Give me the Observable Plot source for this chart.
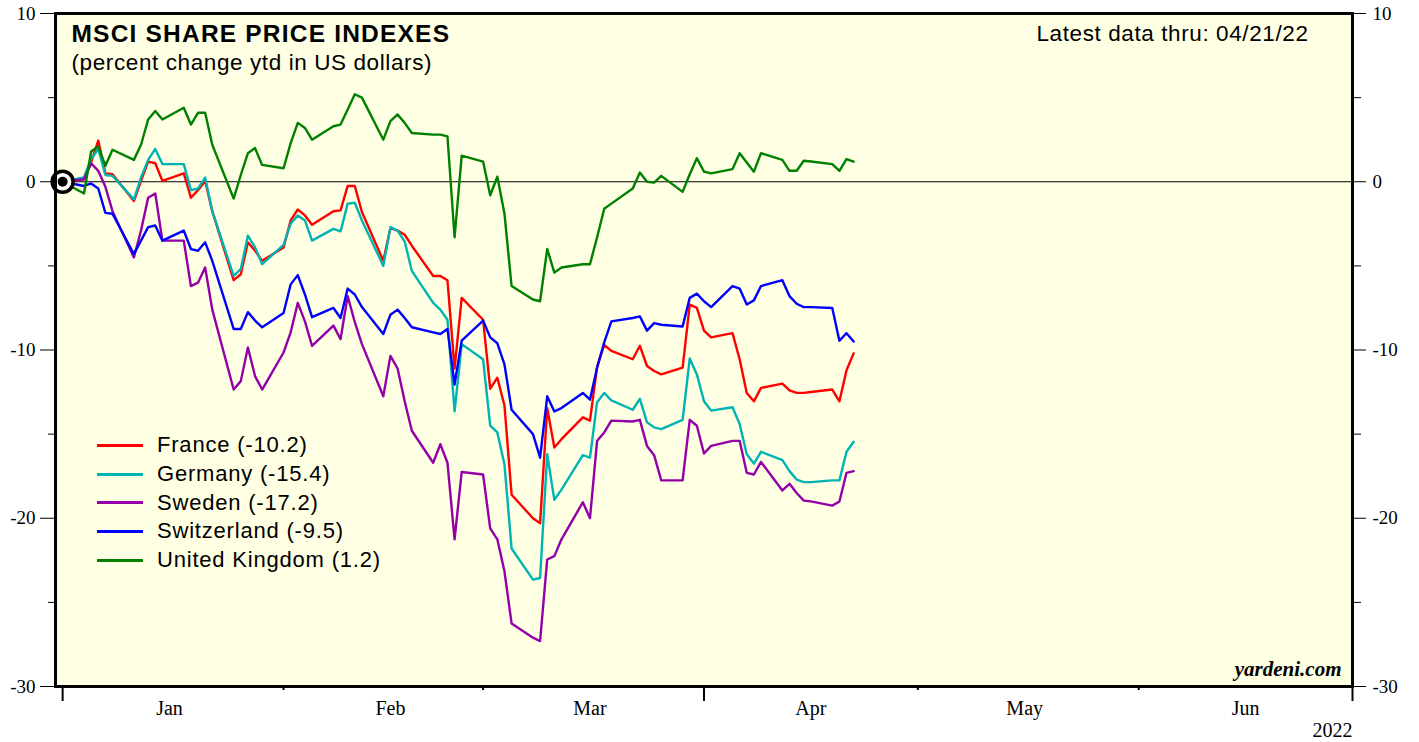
<!DOCTYPE html>
<html><head><meta charset="utf-8">
<script src="https://cdn.jsdelivr.net/npm/d3@7"></script>
<script src="https://cdn.jsdelivr.net/npm/@observablehq/plot@0.6"></script>
<style>
body{margin:0;background:#fff;}
#wrap{position:relative;width:1419px;height:742px;overflow:hidden;}
.legend{position:absolute;left:97px;top:431px;font-family:"Liberation Sans",Arial,sans-serif;font-size:22px;letter-spacing:0.8px;color:#000}
.legend .row{display:flex;align-items:center;height:28.7px;white-space:nowrap}
.legend .sw{width:46px;height:3px;margin-right:14px}
</style></head>
<body><div id="wrap"></div>
<script>
const dates = ["2021-12-31",
"2022-01-03","2022-01-04","2022-01-05","2022-01-06","2022-01-07",
"2022-01-10","2022-01-11","2022-01-12","2022-01-13","2022-01-14",
"2022-01-17","2022-01-18","2022-01-19","2022-01-20","2022-01-21",
"2022-01-24","2022-01-25","2022-01-26","2022-01-27","2022-01-28",
"2022-01-31",
"2022-02-01","2022-02-02","2022-02-03","2022-02-04",
"2022-02-07","2022-02-08","2022-02-09","2022-02-10","2022-02-11",
"2022-02-14","2022-02-15","2022-02-16","2022-02-17","2022-02-18",
"2022-02-21","2022-02-22","2022-02-23","2022-02-24","2022-02-25",
"2022-02-28",
"2022-03-01","2022-03-02","2022-03-03","2022-03-04",
"2022-03-07","2022-03-08","2022-03-09","2022-03-10","2022-03-11",
"2022-03-14","2022-03-15","2022-03-16","2022-03-17","2022-03-18",
"2022-03-21","2022-03-22","2022-03-23","2022-03-24","2022-03-25",
"2022-03-28","2022-03-29","2022-03-30","2022-03-31",
"2022-04-01",
"2022-04-04","2022-04-05","2022-04-06","2022-04-07","2022-04-08",
"2022-04-11","2022-04-12","2022-04-13","2022-04-14","2022-04-15",
"2022-04-18","2022-04-19","2022-04-20","2022-04-21"];

const france = [0,
0.15,1.15,2.45,0.5,0.45,
-1.15,0.05,1.2,1.1,0.05,
0.5,-0.95,-0.5,0.05,-1.75,
-5.85,-5.5,-3.6,-4.1,-4.7,
-3.9,
-2.3,-1.65,-2.0,-2.55,
-1.75,-1.7,-0.25,-0.25,-1.8,
-4.7,-2.75,-2.9,-3.15,-3.8,
-5.6,-5.6,-5.85,-11.1,-6.9,
-8.2,
-12.3,-11.65,-13.3,-18.6,
-20.0,-20.3,-13.45,-15.8,-15.3,
-14.0,-14.2,-11.0,-9.7,-10.05,
-10.55,-9.75,-10.95,-11.25,-11.45,
-11.05,-7.3,-7.5,-8.85,
-9.25,
-9.0,-10.55,-12.55,-13.05,-12.25,
-12.0,-12.4,-12.55,-12.55,-12.5,
-12.35,-13.05,-11.2,-10.2];

const germany = [0,
0.25,1.35,1.95,0.4,0.35,
-1.05,0.25,1.3,1.95,1.05,
1.05,-0.5,-0.4,0.25,-1.75,
-5.6,-5.2,-3.2,-3.9,-4.9,
-3.75,
-2.5,-2.0,-2.3,-3.5,
-2.8,-2.95,-1.3,-1.25,-2.3,
-5.0,-2.7,-2.9,-3.55,-5.3,
-7.2,-7.6,-8.2,-13.65,-9.65,
-10.55,
-14.5,-14.9,-16.8,-21.8,
-23.65,-23.55,-16.2,-18.9,-18.3,
-16.25,-16.4,-13.1,-12.55,-13.0,
-13.55,-12.9,-14.3,-14.6,-14.7,
-14.15,-10.5,-11.45,-13.05,
-13.6,
-13.4,-14.4,-16.2,-16.75,-16.05,
-16.55,-17.2,-17.7,-17.85,-17.85,
-17.75,-17.75,-16.05,-15.45];

const sweden = [0,
0.15,1.1,0.65,-0.3,-1.75,
-4.5,-2.9,-0.95,-0.7,-3.5,
-3.5,-6.2,-6.0,-5.1,-7.6,
-12.35,-11.85,-9.85,-11.55,-12.35,
-10.15,
-8.95,-7.2,-8.3,-9.75,
-8.55,-9.35,-6.8,-8.35,-9.65,
-12.75,-10.35,-11.1,-13.05,-14.8,
-16.7,-15.6,-16.7,-21.25,-17.25,
-17.4,
-20.6,-21.25,-23.15,-26.25,
-27.1,-27.3,-22.45,-22.25,-21.25,
-19.05,-20.0,-15.4,-14.9,-14.2,
-14.25,-14.15,-15.7,-16.25,-17.75,
-17.75,-14.15,-14.5,-16.15,
-15.7,
-15.4,-15.4,-17.3,-17.4,-16.65,
-18.35,-17.95,-18.5,-18.95,-19.0,
-19.25,-19.0,-17.3,-17.2];

const switzerland = [0,
-0.25,-0.1,-0.4,-1.85,-1.9,
-4.3,-3.5,-2.7,-2.6,-3.5,
-2.9,-4.0,-4.1,-3.6,-4.7,
-8.75,-8.75,-7.75,-8.25,-8.65,
-7.8,
-6.1,-5.55,-6.7,-8.05,
-7.5,-8.1,-6.35,-6.7,-7.45,
-9.05,-7.9,-7.6,-8.1,-8.65,
-8.95,-9.05,-8.75,-12.05,-9.45,
-8.25,
-9.25,-9.6,-10.85,-13.55,
-15.0,-16.4,-12.75,-13.65,-13.45,
-12.55,-12.95,-11.05,-9.55,-8.3,
-8.1,-8.0,-8.85,-8.4,-8.5,
-8.6,-6.9,-6.65,-7.1,
-7.45,
-6.2,-6.35,-7.3,-7.05,-6.2,
-5.85,-6.8,-7.25,-7.45,-7.45,
-7.5,-9.45,-9.0,-9.5];

const unitedKingdom = [0,
-0.7,1.8,2.1,0.95,1.9,
1.3,2.2,3.7,4.2,3.7,
4.4,3.4,4.1,4.1,2.2,
-1.0,0.4,1.7,2.0,1.0,
0.8,
2.3,3.5,3.2,2.5,
3.3,3.4,4.3,5.2,5.0,
2.5,3.6,4.0,3.5,2.9,
2.8,2.8,2.7,-3.3,1.55,
1.2,
-0.8,0.3,-1.9,-6.2,
-7.0,-7.1,-4.0,-5.4,-5.1,
-4.9,-4.9,-3.3,-1.6,-1.3,
-0.4,0.55,0.0,-0.05,0.35,
-0.6,0.45,1.4,0.6,
0.5,
0.75,1.7,1.15,0.6,1.7,
1.3,0.65,0.65,1.25,1.2,
1.05,0.65,1.35,1.2];

const countries = ["France","Germany","Sweden","Switzerland","United Kingdom"];
const latestValues = ["-10.2","-15.4","-17.2","-9.5","1.2"];
const colors = ["#ff0000","#00b4b4","#9400a8","#0000ff","#008000"];
const yMajorTicks = [-30,-20,-10,0,10];
const yMinorTicks = [-25,-15,-5,5];
const xMajorTicks = ["2021-12-31","2022-03-31","2022-06-30"];
const xMinorTicks = ["2022-01-31","2022-02-28","2022-04-30","2022-05-31"];
const monthLabelDates = ["2022-01-15","2022-02-15","2022-03-15","2022-04-15","2022-05-15","2022-06-15"];
const xDomain = ["2021-12-30","2022-06-30"];

const title = "MSCI SHARE PRICE INDEXES";
const subtitle = "(percent change ytd in US dollars)";
const latestNote = "Latest data thru: 04/21/22";
const source = "yardeni.com";
const yearLabel = "2022";

const parse = d3.utcParse("%Y-%m-%d");
const seriesValues = [france, germany, sweden, switzerland, unitedKingdom];
const rows = [];
seriesValues.forEach((vals, i) => vals.forEach((v, j) => rows.push({date: parse(dates[j]), value: v, country: countries[i]})));
const origin = [{date: parse(dates[0]), value: 0}];

const sans = "Liberation Sans, Arial, sans-serif";
const serif = "Liberation Serif, Times New Roman, serif";

const plot = Plot.plot({
  width: 1419, height: 742,
  marginLeft: 55, marginRight: 67, marginTop: 13, marginBottom: 56,
  style: {fontFamily: serif, background: "transparent", color: "black"},
  x: {type: "utc", domain: xDomain.map(parse), label: null},
  y: {domain: [-30, 10], label: null},
  color: {domain: countries, range: colors},
  marks: [
    Plot.frame({fill: "#ffffe3"}),
    Plot.ruleY([0], {stroke: "black", strokeWidth: 1.2}),
    Plot.line(rows, {x: "date", y: "value", z: "country", stroke: "country", strokeWidth: 2.4}),
    Plot.dot(origin, {x: "date", y: "value", r: 10.5, fill: "white", stroke: "black", strokeWidth: 3.5}),
    Plot.dot(origin, {x: "date", y: "value", r: 5, fill: "black"}),
    Plot.frame({stroke: "black", strokeWidth: 3}),
    Plot.axisY(yMajorTicks, {anchor: "left", tickSize: 15, tickPadding: 5, fontSize: 19, fontFamily: serif, tickFormat: d => String(d), label: null}),
    Plot.axisY(yMinorTicks, {anchor: "left", tickSize: 7, tickFormat: () => "", label: null}),
    Plot.axisY(yMajorTicks, {anchor: "right", tickSize: 13, tickPadding: 7, fontSize: 19, fontFamily: serif, tickFormat: d => String(d), label: null}),
    Plot.axisY(yMinorTicks, {anchor: "right", tickSize: 8, tickFormat: () => "", label: null}),
    Plot.axisX(xMajorTicks.map(parse), {anchor: "bottom", tickSize: 15, strokeWidth: 2, tickFormat: () => "", label: null}),
    Plot.axisX(xMinorTicks.map(parse), {anchor: "bottom", tickSize: 4, strokeWidth: 2, tickFormat: () => "", label: null}),
    Plot.axisX(monthLabelDates.map(parse), {anchor: "bottom", tickSize: 0, tickPadding: 14, fontSize: 20, fontFamily: serif, tickFormat: d3.utcFormat("%b"), label: null}),
    Plot.text([title], {frameAnchor: "top-left", dx: 16, dy: 20.5, textAnchor: "start", lineAnchor: "middle", fontFamily: sans, fontWeight: "bold", fontSize: 24.5, fill: "black"}),
    Plot.text([subtitle], {frameAnchor: "top-left", dx: 16, dy: 49.5, textAnchor: "start", lineAnchor: "middle", fontFamily: sans, fontSize: 22.5, fill: "black"}),
    Plot.text([latestNote], {frameAnchor: "top-right", dx: -44, dy: 20, textAnchor: "end", lineAnchor: "middle", fontFamily: sans, fontSize: 22.5, fill: "black"}),
    Plot.text([source], {frameAnchor: "bottom-right", dx: -11, dy: -17, textAnchor: "end", lineAnchor: "middle", fontFamily: serif, fontWeight: "bold", fontStyle: "italic", fontSize: 21, fill: "black"}),
    Plot.text([yearLabel], {frameAnchor: "bottom-right", dx: 0, dy: 44, textAnchor: "end", lineAnchor: "middle", fontFamily: serif, fontSize: 20, fill: "black"})
  ]
});

const spacing = new Map([[title, "1.2px"], [subtitle, "0.6px"], [latestNote, "0.6px"]]);
plot.querySelectorAll("text").forEach(t => {
  const s = spacing.get(t.textContent);
  if (s) { t.setAttribute("letter-spacing", s); t.style.letterSpacing = s; }
});

const wrap = document.getElementById("wrap");
wrap.appendChild(plot);

const legend = document.createElement("div");
legend.className = "legend";
countries.forEach((c, i) => {
  const row = document.createElement("div");
  row.className = "row";
  const sw = document.createElement("div");
  sw.className = "sw";
  sw.style.background = colors[i];
  const label = document.createElement("span");
  label.textContent = `${c} (${latestValues[i]})`;
  row.appendChild(sw);
  row.appendChild(label);
  legend.appendChild(row);
});
wrap.appendChild(legend);
</script>
</body></html>
